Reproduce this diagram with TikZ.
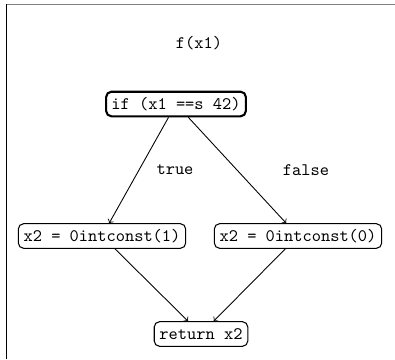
\documentclass[tikz,border=0pt]{standalone}
\usepackage{tikz}

\begin{document}
\begin{tikzpicture}
    [   x=0.02cm, y=-0.02cm,
        every node/.style={font=\ttfamily},
        bnode/.style={draw=black,rounded corners=3pt,inner xsep=3pt,inner ysep=0pt,minimum height=14pt,line width=#1},
        bnode/.default=0.6pt,
        flow/.style={->,line width=0.5pt},
    ]
        \useasboundingbox (0,0) rectangle (395,359);
        % frame edges (top and left only)
        \draw[gray,line width=1.1pt] (6,4.5) -- (395,4.5);
        \draw[black,line width=1.1pt] (6.5,4) -- (6.5,359);
        \node (title) at (199,43) {f(x1)};
        \node[bnode=1.2pt] (cond) at (176,104) {if (x1 ==s 42)};
        \node[bnode] (then) at (102,236) {x2 = 0intconst(1)};
        \node[bnode] (else) at (298,236) {x2 = 0intconst(0)};
        \node[bnode] (ret) at (201,334) {return x2};
        \node (t) at (175,170) {true};
        \node (f) at (306,170) {false};
        \foreach \a/\b in {cond/then,cond/else,then/ret,else/ret}
        {   \draw[flow] (\a) -- (\b);
        }
    \end{tikzpicture}
\end{document}
